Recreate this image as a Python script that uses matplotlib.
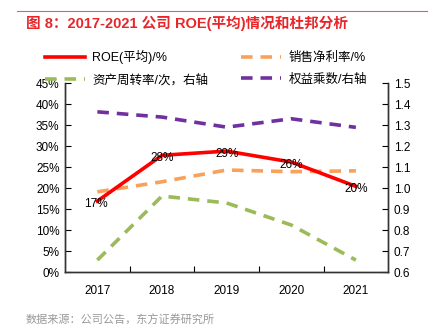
import matplotlib.pyplot as plt
from matplotlib.lines import Line2D
from matplotlib.ticker import FixedLocator, FuncFormatter

plt.rcParams["font.family"] = ["Liberation Sans", "Noto Sans CJK SC", "DejaVu Sans"]

years = ["2017", "2018", "2019", "2020", "2021"]
roe = [16.9, 27.8, 28.8, 26.2, 20.4]
roe_labels = ["17%", "28%", "29%", "26%", "20%"]
net_margin = [19.1, 21.5, 24.3, 23.9, 24.1]
asset_turnover = [0.657, 0.962, 0.929, 0.824, 0.657]
equity_multiplier = [1.363, 1.338, 1.290, 1.330, 1.289]

RED = "#FF0000"
ORANGE = "#F9A15A"
GREEN = "#9BBB59"
PURPLE = "#7030A0"
dash = (0, (3.2, 2.2))

fig = plt.figure(figsize=(4.28, 3.27), dpi=100)
ax = fig.add_axes([0.152, 0.168, 0.755, 0.578])
ax2 = ax.twinx()

x = list(range(len(years)))
ax.plot(x, roe, color=RED, lw=2.6, zorder=5)
ax.plot(x, net_margin, color=ORANGE, lw=2.6, linestyle=dash, zorder=4)
ax2.plot(x, asset_turnover, color=GREEN, lw=2.6, linestyle=dash)
ax2.plot(x, equity_multiplier, color=PURPLE, lw=2.6, linestyle=dash)

for xi, yi, lab in zip(x, roe, roe_labels):
    ax2.annotate(lab, xy=(xi, (yi / 45) * 0.9 + 0.6), xytext=(-1 if xi == 0 else 0, -2),
                 textcoords="offset points", ha="center", va="center", fontsize=8.5, zorder=10)

ax.set_xlim(-0.5, 4.5)
ax.set_ylim(0, 45)
ax2.set_ylim(0.6, 1.5)
ax.set_yticks(range(0, 50, 5))
ax.yaxis.set_major_formatter(FuncFormatter(lambda v, p: f"{v:.0f}%"))
ax2.set_yticks([0.6 + 0.1 * i for i in range(10)])
ax2.yaxis.set_major_formatter(FuncFormatter(lambda v, p: f"{v:.1f}"))

ax.set_xticks(x)
ax.set_xticklabels(years)
ax.xaxis.set_minor_locator(FixedLocator([0.5, 1.5, 2.5, 3.5]))
ax.tick_params(axis="x", which="major", length=0, labelsize=8.5, pad=9)
ax.tick_params(axis="x", which="minor", direction="in", length=4, width=0.8)
ax.tick_params(axis="y", direction="in", length=4, width=0.8, labelsize=8.5, pad=4)
ax2.tick_params(axis="y", direction="in", length=4, width=0.8, labelsize=8.5, pad=4)

for a in (ax, ax2):
    a.spines["top"].set_visible(False)
    for s in ("left", "right", "bottom"):
        a.spines[s].set_color("#333333")
        a.spines[s].set_linewidth(1.0)

handles = [
    Line2D([], [], color=RED, lw=2.6),
    Line2D([], [], color=GREEN, lw=2.6, linestyle=dash),
    Line2D([], [], color=ORANGE, lw=2.6, linestyle=dash),
    Line2D([], [], color=PURPLE, lw=2.6, linestyle=dash),
]
labels = ["ROE(平均)/%", "资产周转率/次，右轴", "销售净利率/%", "权益乘数/右轴"]
fig.legend(handles, labels, ncol=2, loc="upper left", bbox_to_anchor=(0.093, 0.862),
           frameon=False, fontsize=9, handlelength=3.2, columnspacing=2.6,
           handletextpad=0.6, labelspacing=0.75, borderaxespad=0)

fig.add_artist(Line2D([0.04, 1.0], [0.966, 0.966], color="#E06060", lw=0.8))
fig.text(0.06, 0.928, "图 8：2017-2021 公司 ROE(平均)情况和杜邦分析", color="#E8262A",
         fontsize=10.5, fontweight="bold", va="center", ha="left")
fig.text(0.06, 0.022, "数据来源：公司公告，东方证券研究所", color="#999999", fontsize=8,
         va="center", ha="left")

fig.savefig("out.png", dpi=100)
